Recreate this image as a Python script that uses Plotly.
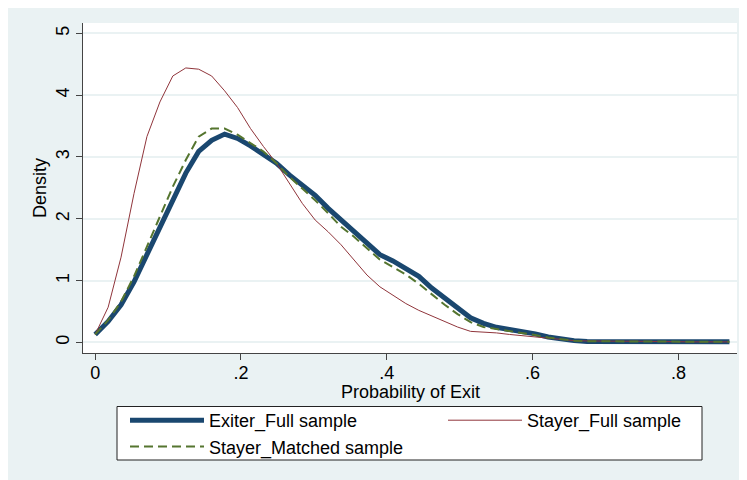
import plotly.graph_objects as go

# ---- data ----
prob_exit = [0.0, 0.0178, 0.0355, 0.0533, 0.0710, 0.0888, 0.1065, 0.1243, 0.1420, 0.1598,
             0.1776, 0.1953, 0.2131, 0.2308, 0.2486, 0.2663, 0.2841, 0.3018, 0.3196, 0.3373,
             0.3551, 0.3729, 0.3906, 0.4084, 0.4261, 0.4439, 0.4616, 0.4794, 0.4971, 0.5149,
             0.5327, 0.5504, 0.5682, 0.5859, 0.6037, 0.6214, 0.6392, 0.6569, 0.6747, 0.6924,
             0.7102, 0.7280, 0.7457, 0.7635, 0.7812, 0.7990, 0.8167, 0.8345, 0.8522, 0.8700]

exiter_full = [0.13, 0.34, 0.61, 0.98, 1.42, 1.85, 2.30, 2.74, 3.09, 3.27,
               3.37, 3.30, 3.18, 3.05, 2.90, 2.71, 2.55, 2.38, 2.17, 1.98,
               1.81, 1.60, 1.42, 1.32, 1.20, 1.07, 0.88, 0.72, 0.55, 0.40,
               0.31, 0.245, 0.21, 0.18, 0.14, 0.09, 0.055, 0.03, 0.015, 0.015,
               0.018, 0.02, 0.02, 0.018, 0.015, 0.012, 0.01, 0.01, 0.01, 0.01]

stayer_full = [0.13, 0.57, 1.38, 2.41, 3.33, 3.89, 4.31, 4.44, 4.42, 4.31,
               4.07, 3.80, 3.46, 3.17, 2.90, 2.57, 2.25, 1.98, 1.79, 1.58,
               1.33, 1.09, 0.90, 0.76, 0.63, 0.52, 0.43, 0.33, 0.25, 0.18,
               0.17, 0.155, 0.13, 0.11, 0.085, 0.07, 0.045, 0.03, 0.025, 0.02,
               0.02, 0.02, 0.02, 0.015, 0.015, 0.01, 0.01, 0.01, 0.01, 0.01]

stayer_matched = [0.13, 0.36, 0.66, 1.07, 1.55, 2.03, 2.52, 2.95, 3.33, 3.46,
                  3.46, 3.36, 3.22, 3.09, 2.90, 2.68, 2.49, 2.30, 2.09, 1.87,
                  1.71, 1.52, 1.34, 1.22, 1.10, 0.95, 0.78, 0.61, 0.46, 0.33,
                  0.25, 0.22, 0.19, 0.16, 0.12, 0.08, 0.05, 0.03, 0.02, 0.02,
                  0.02, 0.02, 0.02, 0.015, 0.015, 0.01, 0.01, 0.01, 0.01, 0.01]

series_names = ["Exiter_Full sample", "Stayer_Full sample", "Stayer_Matched sample"]
x_tick_vals = [0, 0.2, 0.4, 0.6, 0.8]
x_tick_text = ["0", ".2", ".4", ".6", ".8"]
y_tick_vals = [0, 1, 2, 3, 4, 5]
y_tick_text = ["0", "1", "2", "3", "4", "5"]

# ---- figure ----
# the page body has an 8px margin, so the figure starts at (8, 8) in the window
OX, OY = 8, 8
W, H = 739, 472
# plot area in window coordinates: x 83..737, y 23..353
L, R, T, B = 83 - OX, (OX + W) - 737, 23 - OY, (OY + H) - 353
pw, ph = W - L - R, H - T - B

def px(x):  # window x -> paper fraction
    return (x - OX - L) / pw

def py(y):  # window y -> paper fraction
    return (OY + T + ph - y) / ph

FONT = "Liberation Sans, Arial, Helvetica, sans-serif"
FS = 18
BG = "#eaf2f3"

fig = go.Figure()
fig.add_trace(go.Scatter(x=prob_exit, y=exiter_full, mode="lines", name=series_names[0],
                         line=dict(color="#1a476f", width=5), legend="legend"))
fig.add_trace(go.Scatter(x=prob_exit, y=stayer_full, mode="lines", name=series_names[1],
                         line=dict(color="#90353b", width=1), legend="legend2"))
fig.add_trace(go.Scatter(x=prob_exit, y=stayer_matched, mode="lines", name=series_names[2],
                         line=dict(color="#55752f", width=2, dash="9px,5px"), legend="legend"))

shapes = [
    # legend frame
    dict(type="rect", xref="paper", yref="paper", x0=px(117), x1=px(702), y0=py(460), y1=py(406.5),
         fillcolor="white", line=dict(color="#222222", width=1), layer="below"),
]

annotations = [
    dict(text="Probability of Exit", xref="paper", yref="paper",
         x=px(410), y=py(391.5), xanchor="center", yanchor="middle", showarrow=False,
         font=dict(family=FONT, size=FS, color="black")),
]

leg_common = dict(orientation="v", xanchor="left", yanchor="top",
                  bgcolor="rgba(0,0,0,0)", borderwidth=0, itemwidth=74,
                  traceorder="normal", font=dict(family=FONT, size=FS, color="black"))

fig.update_layout(
    width=W, height=H, autosize=False,
    margin=dict(l=L, r=R, t=T, b=B, pad=0, autoexpand=False),
    paper_bgcolor=BG, plot_bgcolor="white",
    font=dict(family=FONT, size=FS, color="black"),
    shapes=shapes, annotations=annotations,
    showlegend=True,
    legend=dict(x=px(125), y=py(402), **leg_common),
    legend2=dict(x=px(443), y=py(402), **leg_common),
    xaxis=dict(range=[-0.0167, 0.8804], tickvals=x_tick_vals, ticktext=x_tick_text,
               showgrid=False, zeroline=False, showline=True, linecolor="#444444", linewidth=1,
               ticks="outside", ticklen=6, tickcolor="#444444", tickwidth=1,
               automargin=False, ticklabelstandoff=-3,
               tickfont=dict(family=FONT, size=FS, color="black")),
    yaxis=dict(range=[-0.17, 5.167], tickvals=y_tick_vals, ticktext=y_tick_text,
               showgrid=True, gridcolor=BG, gridwidth=1.5, zeroline=False,
               showline=True, linecolor="#444444", linewidth=1,
               ticks="outside", ticklen=6, tickcolor="#444444", tickwidth=1,
               tickangle=-90, automargin=False,
               title=dict(text="Density", standoff=1,
                          font=dict(family=FONT, size=FS, color="black")),
               tickfont=dict(family=FONT, size=FS, color="black")),
)

fig.write_html("out.html")
